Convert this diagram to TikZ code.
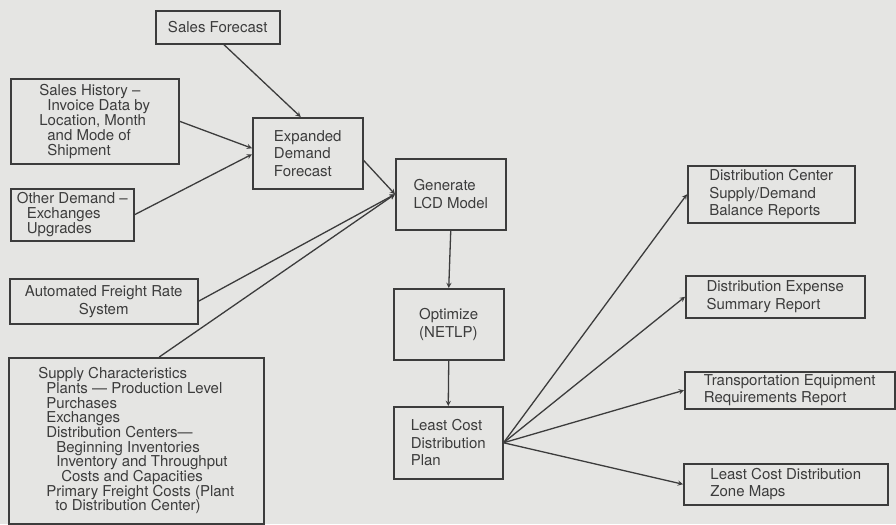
\documentclass[tikz,border=0pt]{standalone}
\usepackage{fontspec}
\setmainfont{TeX Gyre Heros}
\definecolor{ink}{HTML}{3C3C3C}
\definecolor{paper}{HTML}{E5E5E3}

\begin{document}
\begin{tikzpicture}[
    x=1pt, y=-1pt,
    box/.style={rectangle, draw=ink, line width=1.5pt, anchor=north west, inner sep=0pt, align=left, text=ink, font=\fontsize{15}{17.5}\selectfont},
    tight/.style={font=\fontsize{15}{15}\selectfont},
    link/.style={->, >=stealth, draw=ink, line width=1.3pt}
]

% Background
\path[fill=paper] (0,0) rectangle (896,524);

% Demand inputs
\node[box, minimum width=124, minimum height=33, align=center] (sf) at (155,10) {Sales Forecast};
\node[box, tight, minimum width=168, minimum height=85] (sh) at (10,78) {Sales History --\\\hspace*{8pt}Invoice Data by\\Location, Month\\\hspace*{8pt}and Mode of\\\hspace*{8pt}Shipment};
\node[box, tight, minimum width=123, minimum height=52] (od) at (10,188) {Other Demand --\\\hspace*{10pt}Exchanges\\\hspace*{10pt}Upgrades};
\node[box, minimum width=110, minimum height=71] (exp) at (252,117) {Expanded\\Demand\\Forecast};

% Supply inputs
\node[box, minimum width=188, minimum height=45, align=center, font=\fontsize{15}{18}\selectfont] (afr) at (9,278) {Automated Freight Rate\\System};
\node[box, font=\fontsize{15}{14.7}\selectfont, minimum width=255, minimum height=166] (sup) at (8,357) {Supply Characteristics\\\hspace*{8pt}Plants --- Production Level\\\hspace*{8pt}Purchases\\\hspace*{8pt}Exchanges\\\hspace*{8pt}Distribution Centers---\\\hspace*{18pt}Beginning Inventories\\\hspace*{18pt}Inventory and Throughput\\\hspace*{23pt}Costs and Capacities\\\hspace*{8pt}Primary Freight Costs (Plant\\\hspace*{17pt}to Distribution Center)};

% Model chain
\node[box, minimum width=110, minimum height=71] (gen) at (395,158) {Generate\\LCD Model};
\node[box, minimum width=110, minimum height=71] (opt) at (393,288) {Optimize\\(NETLP)};
\node[box, minimum width=109, minimum height=72] (plan) at (393,406) {Least Cost\\Distribution\\Plan};

% Reports
\node[box, minimum width=167, minimum height=57] (dcr) at (687,165) {Distribution Center\\Supply/Demand\\Balance Reports};
\node[box, minimum width=179, minimum height=42] (dexp) at (685,275) {Distribution Expense\\Summary Report};
\node[box, minimum width=210, minimum height=37] (treq) at (684,371) {Transportation Equipment\\Requirements Report};
\node[box, minimum width=204, minimum height=41] (zone) at (683,463) {Least Cost Distribution\\Zone Maps};

% Arrows
\draw[link] ([xshift=6pt]sf.south) -- ([xshift=-7pt]exp.north);
\draw[link] (sh.east) -- ([yshift=5pt]exp.west);
\draw[link] (od.east) -- ([yshift=-1pt]exp.west);
\draw[link] ([yshift=-7pt]exp.east) -- (gen.west);
\draw[link] (afr.east) -- (gen.west);
\draw[link] ([xshift=23pt]sup.north) -- (gen.west);
\draw[link] (gen.south) -- (opt.north);
\draw[link] (opt.south) -- (plan.north);
\draw[link] (plan.east) -- (dcr.west);
\draw[link] (plan.east) -- (dexp.west);
\draw[link] (plan.east) -- (treq.west);
\draw[link] (plan.east) -- (zone.west);

\end{tikzpicture}
\end{document}
